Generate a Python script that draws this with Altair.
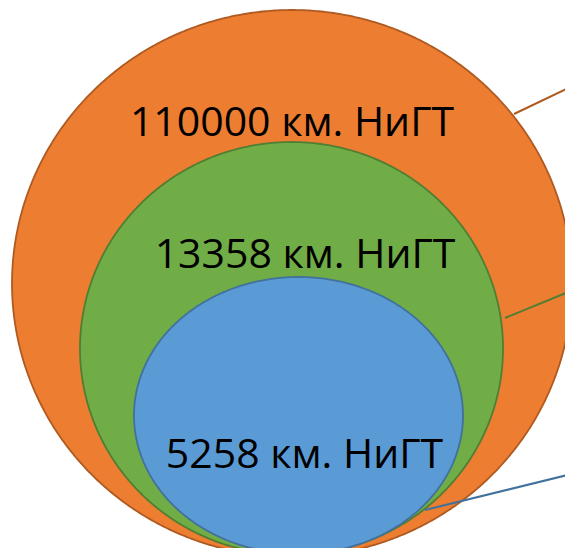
import altair as alt
import numpy as np
import pandas as pd

# Nested ellipses (in screen pixel coordinates of the picture)
names = ["outer", "middle", "inner"]
centers_x = [292, 291.5, 298.5]
centers_y = [283.5, 348.5, 415.5]
radii_x = [280, 211.5, 164.5]
radii_y = [273.5, 206.5, 138.5]
fills = ["#ED7D31", "#70AD47", "#5B9BD5"]
strokes = ["#AE5A21", "#507E32", "#41719C"]

labels = ["110000 км. НиГТ", "13358 км. НиГТ", "5258 км. НиГТ"]
label_x = [292, 305, 304.5]
label_y = [136, 268, 468]

# leader lines
line_x1 = [514, 505, 425]
line_y1 = [114, 318, 510]
line_x2 = [600, 600, 600]
line_y2 = [73, 279, 467]

# page has an 8px margin: plot area covers picture pixels 8..565 x 8..548
W, H = 557, 540
xs = alt.Scale(domain=[8, 565], nice=False, zero=False)
ys = alt.Scale(domain=[8, 548], nice=False, zero=False, reverse=True)

layers = []
t = np.linspace(0, np.pi, 361)
for i, n in enumerate(names):
    df = pd.DataFrame({
        "x": centers_x[i] - radii_x[i] * np.cos(t),
        "y": centers_y[i] - radii_y[i] * np.sin(t),
        "y2": centers_y[i] + radii_y[i] * np.sin(t),
    })
    layers.append(
        alt.Chart(df).mark_area(color=fills[i], stroke=strokes[i], strokeWidth=1.8,
                                opacity=1, clip=True)
        .encode(x=alt.X("x:Q", scale=xs, axis=None),
                y=alt.Y("y:Q", scale=ys, axis=None, stack=None),
                y2="y2:Q")
    )

for i in range(3):
    ldf = pd.DataFrame({"x": [line_x1[i]], "y": [line_y1[i]],
                        "x2": [line_x2[i]], "y2": [line_y2[i]]})
    layers.append(
        alt.Chart(ldf).mark_rule(color=strokes[i], strokeWidth=2, clip=True)
        .encode(x=alt.X("x:Q", scale=xs, axis=None),
                y=alt.Y("y:Q", scale=ys, axis=None),
                x2="x2:Q", y2="y2:Q")
    )

tdf = pd.DataFrame({"x": label_x, "y": label_y, "label": labels})
layers.append(
    alt.Chart(tdf).mark_text(font="Open Sans", fontSize=41, color="#000000",
                             align="center", baseline="alphabetic")
    .encode(x=alt.X("x:Q", scale=xs, axis=None),
            y=alt.Y("y:Q", scale=ys, axis=None),
            text="label:N")
)

chart = alt.layer(*layers).properties(
    width=W, height=H, autosize=alt.AutoSizeParams(type="none"), padding=0
).configure_view(stroke=None)

chart.save("out.html", embed_options={"renderer": "svg", "actions": False})
